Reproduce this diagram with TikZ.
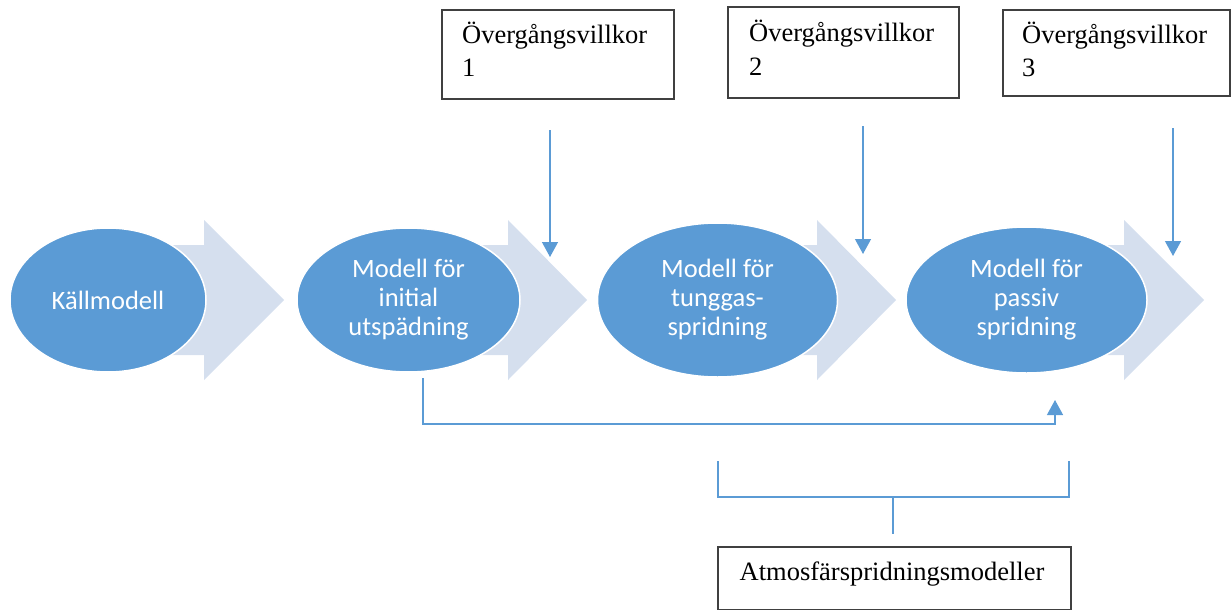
\documentclass[tikz,border=0pt]{standalone}
\usepackage{fontspec}
\setmainfont{Liberation Serif}
\newfontfamily\calfont{Carlito}
\usetikzlibrary{shapes.geometric,arrows.meta}
\definecolor{ellblue}{HTML}{5B9BD5}
\definecolor{chev}{HTML}{D5DFEE}
\definecolor{linblue}{HTML}{5B9BD5}
\definecolor{boxline}{HTML}{404040}
\tikzset{
  model/.style={ellipse, fill=ellblue, draw=white, line width=1.5pt, inner sep=0pt,
    text=white, align=center, font=\calfont\fontsize{26.5}{29}\selectfont},
  chevron/.style={fill=chev, draw=none},
  condbox/.style={rectangle, draw=boxline, line width=1.4pt, inner sep=0pt},
  boxtext/.style={anchor=base west, inner sep=0pt, text width=200pt, align=left,
    font=\fontsize{26.5}{33}\selectfont},
  conn/.style={draw=linblue, line width=1.3pt},
  connarrow/.style={conn, -{Triangle[width=16pt,length=15pt]}},
}
\begin{document}
\begin{tikzpicture}[x=1pt,y=-1pt]
\useasboundingbox (0,0) rectangle (1231,610);
% chevrons
\foreach \bx/\hx/\tx in {108/204/284, 408/508/587, 717/817/896, 1026/1124/1204}{
  \path[chevron] (\bx,245) -- (\hx,245) -- (\hx,220) -- (\tx,300) -- (\hx,380) -- (\hx,355) -- (\bx,355) -- cycle;
}
% ellipses
\node[model, minimum width=196pt, minimum height=144pt] (e1) at (108,300) {K\"allmodell};
\node[model, minimum width=223pt, minimum height=144pt] (e2) at (408.5,300) {Modell f\"or\\initial\\utsp\"adning};
\node[model, minimum width=240pt, minimum height=154pt] (e3) at (717.5,300) {Modell f\"or\\tunggas-\\spridning};
\node[model, minimum width=241pt, minimum height=146pt] (e4) at (1026.5,300) {Modell f\"or\\passiv\\spridning};
% condition boxes
\node[condbox, minimum width=232pt, minimum height=89pt] (b1) at (558,54.5) {};
\node[condbox, minimum width=231pt, minimum height=91pt] (b2) at (843.5,52.5) {};
\node[condbox, minimum width=227pt, minimum height=86pt] (b3) at (1116.5,53) {};
\node[boxtext] (t1) at (462,44) {Övergångsvillkor\\1};
\node[boxtext] (t2) at (749,42) {Övergångsvillkor\\2};
\node[boxtext] (t3) at (1022,44) {Övergångsvillkor\\3};
% vertical arrows
\coordinate (v1s) at (550,130); \coordinate (v1e) at (550,257);
\coordinate (v2s) at (863,126); \coordinate (v2e) at (863,254);
\coordinate (v3s) at (1173,128); \coordinate (v3e) at (1173,256);
\draw[connarrow] (v1s) -- (v1e);
\draw[connarrow] (v2s) -- (v2e);
\draw[connarrow] (v3s) -- (v3e);
% bottom connector
\coordinate (c1) at (423,378);
\coordinate (c2) at (1055,400);
\draw[connarrow] (c1) |- (1055,424) -- (c2);
% bracket
\coordinate (k1) at (718,461);
\coordinate (k2) at (1069,461);
\coordinate (km) at (893,497);
\coordinate (ks) at (893,534);
\draw[conn] (k1) |- (km) -| (k2);
\draw[conn] (km) -- (ks);
% atmos box
\node[condbox, minimum width=353pt, minimum height=63pt] (atm) at (894.5,578.5) {};
\node[anchor=base, inner sep=0pt, font=\fontsize{26.5}{33}\selectfont] (atmt) at (892,580) {Atmosfärspridningsmodeller};
\end{tikzpicture}
\end{document}
